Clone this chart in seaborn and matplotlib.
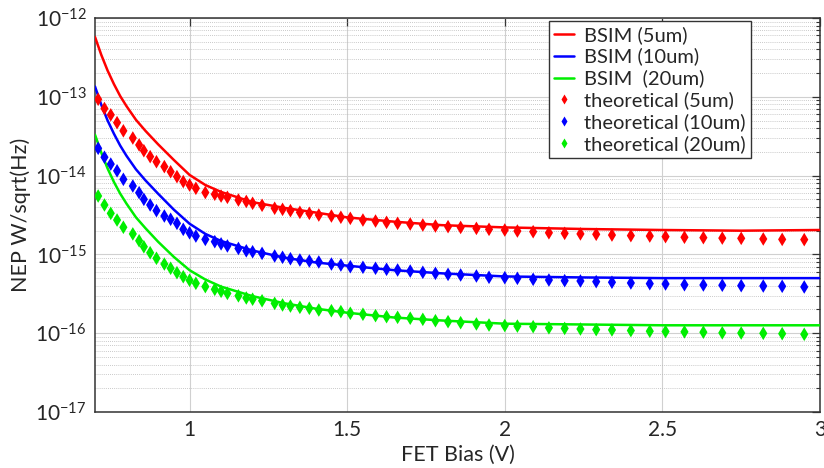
import numpy as np
import pandas as pd
import matplotlib
matplotlib.use("Agg")
import matplotlib.pyplot as plt
from matplotlib.ticker import LogLocator, FixedLocator, NullFormatter
import seaborn as sns

# ---------------- data ----------------
bsim_x = [0.70, 0.72, 0.74, 0.76, 0.78, 0.80, 0.83, 0.86, 0.90, 0.95, 1.00, 1.05,
          1.10, 1.20, 1.30, 1.40, 1.50, 1.65, 1.80, 2.00, 2.25, 2.50, 2.75, 3.00]
bsim_5um = [5.75e-13, 3.4e-13, 2.15e-13, 1.45e-13, 1.02e-13, 7.6e-14, 5.1e-14, 3.7e-14,
            2.5e-14, 1.58e-14, 1.02e-14, 7.6e-15, 6.2e-15, 4.6e-15, 3.9e-15, 3.4e-15,
            2.95e-15, 2.6e-15, 2.35e-15, 2.2e-15, 2.1e-15, 2.04e-15, 2.0e-15, 2.04e-15]
bsim_10um = [1.35e-13, 7.9e-14, 5.0e-14, 3.4e-14, 2.4e-14, 1.78e-14, 1.2e-14, 8.7e-15,
             5.9e-15, 3.7e-15, 2.45e-15, 1.82e-15, 1.48e-15, 1.12e-15, 9.1e-16, 7.9e-16,
             7.2e-16, 6.3e-16, 5.75e-16, 5.25e-16, 5.1e-16, 5.0e-16, 5.0e-16, 5.0e-16]
bsim_20um = [3.3e-14, 1.95e-14, 1.23e-14, 8.3e-15, 5.9e-15, 4.4e-15, 2.95e-15, 2.15e-15,
             1.45e-15, 9.3e-16, 6.3e-16, 4.8e-16, 3.9e-16, 2.95e-16, 2.4e-16, 2.05e-16,
             1.82e-16, 1.58e-16, 1.45e-16, 1.32e-16, 1.29e-16, 1.26e-16, 1.26e-16, 1.26e-16]

theo_x = [0.71, 0.73, 0.75, 0.77, 0.79, 0.82, 0.84, 0.855, 0.875, 0.895, 0.92, 0.94,
          0.96, 0.98, 1.0, 1.02, 1.05, 1.08, 1.10, 1.12, 1.155, 1.18, 1.20, 1.23,
          1.27, 1.295, 1.32, 1.35, 1.38, 1.41, 1.45, 1.48, 1.51, 1.55, 1.59, 1.625,
          1.66, 1.70, 1.74, 1.78, 1.82, 1.86, 1.91, 1.95, 2.0, 2.04, 2.09, 2.14,
          2.19, 2.24, 2.29, 2.34, 2.40, 2.46, 2.51, 2.57, 2.63, 2.69, 2.75, 2.82,
          2.88, 2.95]
theo_5um = [9.3e-14, 7.1e-14, 5.9e-14, 4.7e-14, 3.7e-14, 3.0e-14, 2.45e-14, 2.07e-14,
            1.74e-14, 1.50e-14, 1.30e-14, 1.12e-14, 9.7e-15, 8.4e-15, 7.6e-15, 6.9e-15,
            6.1e-15, 5.8e-15, 5.5e-15, 5.3e-15, 4.9e-15, 4.7e-15, 4.45e-15, 4.2e-15,
            3.85e-15, 3.73e-15, 3.59e-15, 3.42e-15, 3.32e-15, 3.16e-15, 3.07e-15, 2.96e-15,
            2.87e-15, 2.73e-15, 2.65e-15, 2.55e-15, 2.48e-15, 2.43e-15, 2.36e-15, 2.29e-15,
            2.25e-15, 2.2e-15, 2.14e-15, 2.08e-15, 2.04e-15, 1.98e-15, 1.94e-15, 1.88e-15,
            1.85e-15, 1.82e-15, 1.80e-15, 1.76e-15, 1.73e-15, 1.71e-15, 1.68e-15, 1.65e-15,
            1.63e-15, 1.61e-15, 1.60e-15, 1.57e-15, 1.55e-15, 1.54e-15]
theo_10um = [2.22e-14, 1.71e-14, 1.40e-14, 1.15e-14, 8.97e-15, 7.38e-15, 6.07e-15, 5.0e-15,
             4.24e-15, 3.59e-15, 3.07e-15, 2.79e-15, 2.48e-15, 2.08e-15, 1.88e-15, 1.71e-15,
             1.55e-15, 1.45e-15, 1.36e-15, 1.28e-15, 1.19e-15, 1.11e-15, 1.08e-15, 1.03e-15,
             9.55e-16, 9.19e-16, 8.81e-16, 8.49e-16, 8.24e-16, 8.01e-16, 7.55e-16, 7.33e-16,
             6.98e-16, 6.86e-16, 6.67e-16, 6.47e-16, 6.34e-16, 6.15e-16, 5.93e-16, 5.75e-16,
             5.58e-16, 5.48e-16, 5.32e-16, 5.12e-16, 5.06e-16, 4.97e-16, 4.83e-16, 4.73e-16,
             4.64e-16, 4.60e-16, 4.51e-16, 4.43e-16, 4.34e-16, 4.25e-16, 4.21e-16, 4.12e-16,
             4.09e-16, 4.06e-16, 4.01e-16, 3.97e-16, 3.94e-16, 3.86e-16]
theo_20um = [5.51e-15, 4.24e-15, 3.32e-15, 2.73e-15, 2.21e-15, 1.82e-15, 1.49e-15, 1.25e-15,
             1.05e-15, 8.93e-16, 7.55e-16, 6.67e-16, 5.86e-16, 5.21e-16, 4.7e-16, 4.3e-16,
             3.9e-16, 3.6e-16, 3.4e-16, 3.2e-16, 2.98e-16, 2.8e-16, 2.7e-16, 2.58e-16,
             2.39e-16, 2.28e-16, 2.21e-16, 2.13e-16, 2.07e-16, 1.97e-16, 1.93e-16, 1.88e-16,
             1.79e-16, 1.74e-16, 1.67e-16, 1.62e-16, 1.59e-16, 1.55e-16, 1.50e-16, 1.44e-16,
             1.40e-16, 1.36e-16, 1.31e-16, 1.27e-16, 1.25e-16, 1.23e-16, 1.21e-16, 1.17e-16,
             1.15e-16, 1.13e-16, 1.11e-16, 1.10e-16, 1.08e-16, 1.06e-16, 1.05e-16, 1.04e-16,
             1.03e-16, 1.01e-16, 1.005e-16, 9.97e-17, 9.86e-17, 9.69e-17]

line_labels = ["BSIM (5um)", "BSIM (10um)", "BSIM  (20um)"]
theo_labels = ["theoretical (5um)", "theoretical (10um)", "theoretical (20um)"]
colors = ["#ff0000", "#0000ff", "#00ee00"]
x_ticks = [1, 1.5, 2, 2.5, 3]
x_ticklabels = ["1", "1.5", "2", "2.5", "3"]
x_label = "FET Bias (V)"
y_label = "NEP W/sqrt(Hz)"

# ---------------- tables ----------------
df_lines = pd.concat([
    pd.DataFrame({"x": bsim_x, "y": v, "series": lab})
    for v, lab in zip([bsim_5um, bsim_10um, bsim_20um], line_labels)
])
df_theo = pd.concat([
    pd.DataFrame({"x": theo_x, "y": v, "series": lab})
    for v, lab in zip([theo_5um, theo_10um, theo_20um], theo_labels)
])

# ---------------- style ----------------
sns.set_theme(style="white")
fam = ["Lato", "DejaVu Sans"]
plt.rcParams["font.family"] = fam
plt.rcParams["mathtext.fontset"] = "custom"
plt.rcParams["mathtext.rm"] = "Lato"
plt.rcParams["mathtext.default"] = "rm"

fig = plt.figure(figsize=(8.24, 4.68), dpi=100)
ax = fig.add_axes([95 / 824, 1 - 412 / 468, 725 / 824, 394 / 468])

sns.lineplot(data=df_lines, x="x", y="y", hue="series",
             palette=dict(zip(line_labels, colors)), hue_order=line_labels,
             linewidth=1.8, ax=ax, sort=False, estimator=None, zorder=3)
sns.scatterplot(data=df_theo, x="x", y="y", hue="series",
                palette=dict(zip(theo_labels, colors)), hue_order=theo_labels,
                marker="d", s=48, edgecolor="none", ax=ax, zorder=4)

ax.set_yscale("log")
ax.set_xlim(0.7, 3.0)
ax.set_ylim(1e-17, 1e-12)

ax.yaxis.set_major_locator(LogLocator(base=10, numticks=10))
ax.yaxis.set_minor_locator(LogLocator(base=10, subs=np.arange(2, 10), numticks=20))
ax.yaxis.set_minor_formatter(NullFormatter())
ax.xaxis.set_major_locator(FixedLocator(x_ticks))
ax.set_xticklabels(x_ticklabels)

ax.grid(which="major", color="#d0d0d0", linestyle="-", linewidth=0.8)
ax.grid(which="minor", axis="y", color="#b8b8b8", linestyle=(0, (1, 1.5)), linewidth=0.6)
ax.set_axisbelow(True)

ax.tick_params(which="both", direction="in", top=True, right=True,
               color="#333333")
ax.tick_params(which="major", length=6, width=0.9, labelsize=15, colors="#333333",
               labelcolor="#262626", pad=6)
ax.tick_params(which="minor", length=3, width=0.8, color="#333333")
for sp in ax.spines.values():
    sp.set_color("#333333")
    sp.set_linewidth(1.1)

ax.set_xlabel(x_label, fontsize=15.5, color="#262626", labelpad=3)
ax.set_ylabel(y_label, fontsize=15.5, color="#262626", labelpad=3)

handles, labels = ax.get_legend_handles_labels()
order = line_labels + theo_labels
hmap = dict(zip(labels, handles))
leg = ax.legend([hmap[l] for l in order], order, loc="upper right",
                bbox_to_anchor=(0.905, 0.993), fontsize=14.5, frameon=True,
                fancybox=False, edgecolor="#333333", framealpha=1,
                handlelength=1.0, handletextpad=0.5, borderpad=0.25,
                labelspacing=0.2, borderaxespad=0.0, markerscale=0.7)
leg.get_frame().set_linewidth(1.0)

fig.savefig("out.png", dpi=100)
